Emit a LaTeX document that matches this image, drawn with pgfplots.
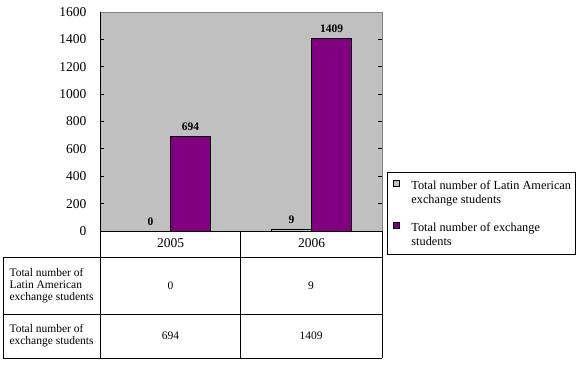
\documentclass[border=0pt]{standalone}
\usepackage{fontspec}
\setmainfont{Liberation Serif}
\usepackage{pgfplots}
\pgfplotsset{compat=1.18}
\definecolor{plotgray}{HTML}{C0C0C0}
\definecolor{bordgray}{HTML}{808080}
\definecolor{xpurple}{HTML}{800080}
\newcommand{\tickf}{\fontsize{13.5}{15}\selectfont}
\newcommand{\tabf}{\fontsize{11.5}{12}\selectfont}
\newcommand{\legf}{\fontsize{12.3}{14}\selectfont}
\begin{document}
\begin{tikzpicture}[x=1pt,y=1pt]
\useasboundingbox (0,0) rectangle (580,370);
\fill[white] (0,0) rectangle (580,370);
\begin{axis}[
  at={(100pt,139pt)}, anchor=south west,
  scale only axis, width=282pt, height=219pt,
  ybar=0pt, bar width=40pt,
  xmin=-0.5, xmax=1.5,
  ymin=0, ymax=1600, ytick distance=200,
  xtick={0,1}, xticklabels={2005,2006},
  x tick label style={font=\tickf, yshift=0pt},
  major x tick style={draw=none},
  y tick label style={font=\tickf},
  /pgf/number format/assume math mode=true,
  /pgf/number format/1000 sep={},
  yticklabel style={xshift=-10pt},
  major tick length=4pt,
  ytick style={black, line width=0.8pt},
  axis background/.style={fill=plotgray},
  axis line style={draw=bordgray, line width=0.8pt},
  nodes near coords,
  every node near coord/.append style={font=\fontsize{11.5}{12}\selectfont\bfseries, black, yshift=2pt},
  legend style={at={(axis description cs:1,0.2694)}, anchor=north west, xshift=5pt,
    draw=black, line width=0.8pt, font=\legf, inner xsep=2pt, inner ysep=6pt,
    row sep=14pt, cells={align=left, anchor=west}},
  legend cell align=left,
  legend image code/.code={\draw[#1, draw=black, line width=0.7pt] (4pt,6pt) rectangle (10pt,12pt); \path[draw=none, fill=none] (0pt,6pt) rectangle (20pt,12pt);},
]
\addplot[fill=plotgray, draw=black, line width=0.7pt] coordinates {(0,0) (1,9)};
\addplot[fill=xpurple, draw=black, line width=0.7pt] coordinates {(0,694) (1,1409)};
\legend{Total number of Latin American\\exchange students\hspace*{40pt}, Total number of exchange\\students}
\end{axis}
% table grid
\begin{scope}[line width=0.8pt]
\draw (100,358) -- (100,12);
\draw (100,139) -- (382,139);
\draw (382,139) -- (382,12);
\draw (240,139) -- (240,12);
\draw (3,113) -- (382,113);
\draw (3,56) -- (382,56);
\draw (3,12) -- (382,12);
\draw (3,113) -- (3,12);
\end{scope}
\node[font=\tabf, align=left, anchor=west] at (6,84.5) {Total number of\\Latin American\\exchange students};
\node[font=\tabf, align=left, anchor=west] at (6,34) {Total number of\\exchange students};
\node[font=\tabf] at (170.5,84.5) {0};
\node[font=\tabf] at (311,84.5) {9};
\node[font=\tabf] at (170.5,34) {694};
\node[font=\tabf] at (311,34) {1409};
\end{tikzpicture}
\end{document}
